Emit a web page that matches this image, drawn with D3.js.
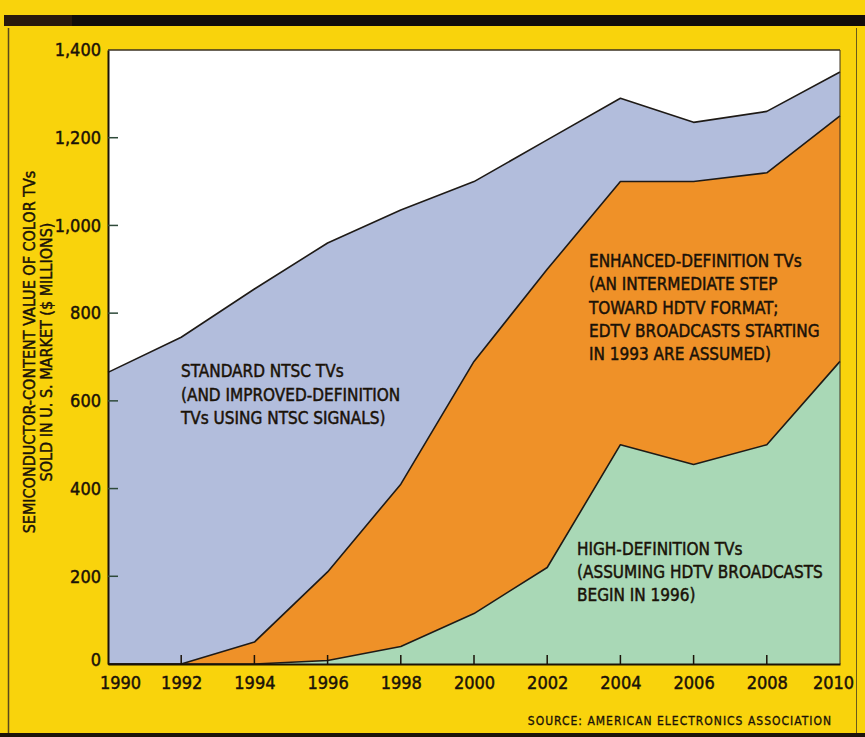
<!DOCTYPE html>
<html>
<head>
<meta charset="utf-8">
<script src="https://cdn.jsdelivr.net/npm/d3@7"></script>
<style>
  body { margin: 0; background: #f9d30c; }
  svg { display: block; }
  text { font-family: "DejaVu Sans Condensed", "Liberation Sans Narrow", "DejaVu Sans", sans-serif; font-stretch: condensed; fill: #1a1208; stroke: #1a1208; stroke-width: 0.45px; }
</style>
</head>
<body>
<div id="chart"></div>
<script>
// values ($ millions)
var years = [1990, 1992, 1994, 1996, 1998, 2000, 2002, 2004, 2006, 2008, 2010];
var hdtv  = [0, 0, 0, 8, 40, 115, 220, 500, 455, 500, 690];
var edtv  = [0, 0, 50, 202, 370, 575, 680, 600, 645, 620, 560];
var ntsc  = [665, 745, 805, 750, 625, 410, 295, 190, 135, 140, 100];
var yTicks = [0, 200, 400, 600, 800, 1000, 1200, 1400];

var labelNtsc = ["STANDARD NTSC TVs", "(AND IMPROVED-DEFINITION", "TVs USING NTSC SIGNALS)"];
var labelEdtv = ["ENHANCED-DEFINITION TVs", "(AN INTERMEDIATE STEP", "TOWARD HDTV FORMAT;", "EDTV BROADCASTS STARTING", "IN 1993 ARE ASSUMED)"];
var labelHdtv = ["HIGH-DEFINITION TVs", "(ASSUMING HDTV BROADCASTS", "BEGIN IN 1996)"];

var W = 865, H = 737;
var margin = {top: 50, right: 25, bottom: 73, left: 108};
var width = W - margin.left - margin.right,
    height = H - margin.top - margin.bottom;

var svg = d3.select("#chart").append("svg")
    .attr("width", W)
    .attr("height", H);

// page frame
svg.append("rect").attr("x", 0).attr("y", 0).attr("width", W).attr("height", H).attr("fill", "#f9d30c");
svg.append("rect").attr("x", 4).attr("y", 15).attr("width", W - 4).attr("height", 11).attr("fill", "#120d0a");
svg.append("rect").attr("x", 4).attr("y", 15).attr("width", 68).attr("height", 11).attr("fill", "#2a1a0c");
svg.append("rect").attr("x", 0).attr("y", 733).attr("width", W).attr("height", 4).attr("fill", "#1c140c");
svg.append("line").attr("x1", 8.5).attr("x2", 8.5).attr("y1", 28).attr("y2", 733)
    .attr("stroke", "#5a4a1a").attr("stroke-width", 1.5);
svg.append("line").attr("x1", 856.5).attr("x2", 856.5).attr("y1", 28).attr("y2", 733)
    .attr("stroke", "#6a5a1a").attr("stroke-width", 1);

var rows = years.map(function(y, i) {
    return {year: y, hdtv: hdtv[i], edtv: edtv[i], ntsc: ntsc[i]};
});

var x = d3.scaleLinear().domain([1990, 2010]).range([0, width]);
var y = d3.scaleLinear().domain([0, 1400]).range([height, 0]);

var stack = d3.stack().keys(["hdtv", "edtv", "ntsc"]);
var layers = stack(rows);
var colors = {hdtv: "#a9d8b6", edtv: "#ef9128", ntsc: "#b2bddc"};

var g = svg.append("g")
    .attr("transform", "translate(" + margin.left + "," + margin.top + ")");

g.append("rect")
    .attr("width", width)
    .attr("height", height)
    .attr("fill", "#ffffff");

var area = d3.area()
    .x(function(d) { return x(d.data.year); })
    .y0(function(d) { return y(d[0]); })
    .y1(function(d) { return y(d[1]); });

var topLine = d3.line()
    .x(function(d) { return x(d.data.year); })
    .y(function(d) { return y(d[1]); });

g.selectAll(".layer")
    .data(layers)
    .enter().append("path")
    .attr("class", "layer")
    .attr("fill", function(d) { return colors[d.key]; })
    .attr("d", area);

g.selectAll(".edge")
    .data(layers)
    .enter().append("path")
    .attr("class", "edge")
    .attr("fill", "none")
    .attr("stroke", "#1e1a16")
    .attr("stroke-width", 1.6)
    .attr("stroke-linejoin", "round")
    .attr("d", topLine);

// frame top/right
g.append("line").attr("x1", 0).attr("x2", width).attr("y1", 0).attr("y2", 0)
    .attr("stroke", "#3a3020").attr("stroke-width", 1.5);
g.append("line").attr("x1", width).attr("x2", width).attr("y1", 0).attr("y2", height)
    .attr("stroke", "#3a3020").attr("stroke-width", 1);

// axes
var yAxis = d3.axisLeft(y)
    .tickValues(yTicks)
    .tickSize(0)
    .tickPadding(7)
    .tickFormat(d3.format(","));

var yg = g.append("g").call(yAxis);
yg.select(".domain").attr("stroke", "#1a1208").attr("stroke-width", 2);
yg.selectAll("text")
    .style("font-size", "18px")
    .attr("fill", "#1a1208")
    .attr("y", function(d) { return d === 0 ? -4 : 0; });

// inner y ticks
g.selectAll(".ytick")
    .data(yTicks.filter(function(d) { return d > 0 && d < 1400; }))
    .enter().append("line")
    .attr("x1", 0).attr("x2", 10)
    .attr("y1", function(d) { return y(d); })
    .attr("y2", function(d) { return y(d); })
    .attr("stroke", "#2e4a3a").attr("stroke-width", 1.5);

var xAxis = d3.axisBottom(x)
    .tickValues(years)
    .tickSize(0)
    .tickPadding(12)
    .tickFormat(d3.format("d"));

var xg = g.append("g")
    .attr("transform", "translate(0," + height + ")")
    .call(xAxis);
xg.select(".domain").attr("stroke", "#1a1208").attr("stroke-width", 2);
xg.selectAll("text")
    .style("font-size", "18px")
    .attr("fill", "#1a1208")
    .attr("x", function(d) { return d === 1990 ? 12 : (d === 2010 ? -7 : 0); });

// inner x ticks
g.selectAll(".xtick")
    .data(years.slice(1, -1))
    .enter().append("line")
    .attr("x1", function(d) { return x(d); })
    .attr("x2", function(d) { return x(d); })
    .attr("y1", height).attr("y2", height - 9)
    .attr("stroke", "#1a1208").attr("stroke-width", 1.5);

// area labels
function block(lines, x0, y0, step) {
    g.append("text")
        .attr("x", x0)
        .attr("y", y0)
        .style("font-size", "17px")
        .selectAll("tspan")
        .data(lines)
        .enter().append("tspan")
        .attr("x", x0)
        .attr("dy", function(d, i) { return i ? step : 0; })
        .text(function(d) { return d; });
}
block(labelNtsc, 181 - margin.left, 377 - margin.top, 23.5);
block(labelEdtv, 589 - margin.left, 267 - margin.top, 23.3);
block(labelHdtv, 577 - margin.left, 555 - margin.top, 23);

// y axis title
var yt = svg.append("text")
    .attr("transform", "translate(35,352) rotate(-90)")
    .attr("text-anchor", "middle")
    .style("font-size", "16px");
yt.append("tspan").attr("x", 0).attr("dy", 0).text("SEMICONDUCTOR-CONTENT VALUE OF COLOR TVs");
yt.append("tspan").attr("x", 0).attr("dy", 17).text("SOLD IN U. S. MARKET ($ MILLIONS)");

// source
svg.append("text")
    .attr("x", 832)
    .attr("y", 725)
    .attr("text-anchor", "end")
    .style("font-size", "12px")
    .style("letter-spacing", "1px")
    .style("stroke-width", "0.3px")
    .text("SOURCE: AMERICAN ELECTRONICS ASSOCIATION");
</script>
</body>
</html>
